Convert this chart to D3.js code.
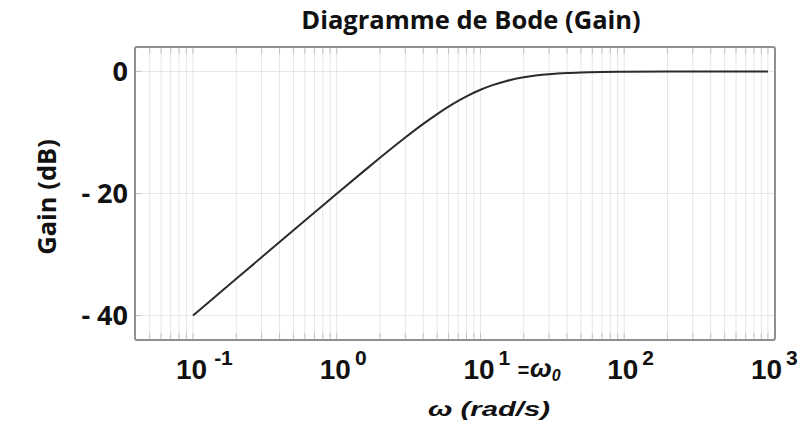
<!DOCTYPE html>
<html>
<head>
<meta charset="utf-8">
<script src="https://cdn.jsdelivr.net/npm/d3@7"></script>
<style>
  html, body { margin: 0; padding: 0; background: #fff; }
  svg { display: block; }
</style>
</head>
<body>
<svg id="chart" width="800" height="428"></svg>
<script>
// ---- data ----
const omega  = [0.1, 0.2, 0.3, 0.5, 0.7, 1, 1.5, 2, 3, 4, 5, 6, 7, 8, 10, 12, 15, 20, 25, 30, 40, 50, 70, 100, 200, 500, 1000];
const gainDb = [-40, -33.98, -30.46, -26.03, -23.12, -20.04, -16.58, -14.15, -10.83, -8.6, -6.99, -5.77, -4.83, -4.09, -3.01, -2.29, -1.6, -0.97, -0.64, -0.46, -0.26, -0.17, -0.09, -0.04, -0.01, 0, 0];
const yTicks = [0, -20, -40];
const yTickLabels = ["0", "- 20", "- 40"];
const xTickValues = [0.1, 1, 10, 100, 1000];
const xTickExponents = ["-1", "0", "1", "2", "3"];
const titleText = "Diagramme de Bode (Gain)";
const xTitle = "ω (rad/s)";
const yTitle = "Gain (dB)";

// ---- layout ----
const svg = d3.select("#chart");
const pLeft = 135, pRight = 775, pTop = 47, pBottom = 340;

const x = d3.scaleLog().domain([0.0395, 1120]).range([pLeft, pRight]);
const y = d3.scaleLinear().domain([-44, 4]).range([pBottom, pTop]);

// minor / major vertical grid positions
const gridVals = [];
for (let e = -2; e <= 3; e++) {
  for (let m = 1; m <= 9; m++) {
    const v = m * Math.pow(10, e);
    if (v <= 1000 && x(v) > pLeft + 4 && x(v) < pRight - 2) gridVals.push(v);
  }
}

const grid = svg.append("g");
grid.selectAll("line.v").data(gridVals).join("line")
  .attr("class", "v")
  .attr("x1", d => x(d)).attr("x2", d => x(d))
  .attr("y1", pTop).attr("y2", pBottom)
  .attr("stroke", "#e6e6e6").attr("stroke-width", 1);
grid.selectAll("line.h").data(yTicks).join("line")
  .attr("class", "h")
  .attr("x1", pLeft).attr("x2", pRight)
  .attr("y1", d => y(d)).attr("y2", d => y(d))
  .attr("stroke", "#e6e6e6").attr("stroke-width", 1);

// small inward ticks top & bottom
const tk = svg.append("g");
tk.selectAll("line.t").data(gridVals).join("line")
  .attr("class", "t")
  .attr("x1", d => x(d)).attr("x2", d => x(d))
  .attr("y1", pTop).attr("y2", pTop + 7)
  .attr("stroke", "#c4c4c4").attr("stroke-width", 1);
tk.selectAll("line.b").data(gridVals).join("line")
  .attr("class", "b")
  .attr("x1", d => x(d)).attr("x2", d => x(d))
  .attr("y1", pBottom - 7).attr("y2", pBottom)
  .attr("stroke", "#c4c4c4").attr("stroke-width", 1);
tk.selectAll("line.l").data(yTicks).join("line")
  .attr("class", "l")
  .attr("x1", pLeft).attr("x2", pLeft + 6)
  .attr("y1", d => y(d)).attr("y2", d => y(d))
  .attr("stroke", "#c4c4c4");

// curve
const pts = omega.map((w, i) => [w, gainDb[i]]);
svg.append("path")
  .datum(pts)
  .attr("fill", "none")
  .attr("stroke", "#2b2b2b")
  .attr("stroke-width", 2)
  .attr("stroke-linejoin", "round")
  .attr("d", d3.line().x(d => x(d[0])).y(d => y(d[1])).curve(d3.curveMonotoneX));

// frame
svg.append("rect")
  .attr("x", pLeft).attr("y", pTop)
  .attr("width", pRight - pLeft).attr("height", pBottom - pTop)
  .attr("rx", 2)
  .attr("fill", "none").attr("stroke", "#8f8f8f").attr("stroke-width", 2);

// title
svg.append("text")
  .attr("x", 471).attr("y", 29)
  .attr("text-anchor", "middle")
  .attr("font-family", "'Open Sans', 'Noto Sans', sans-serif")
  .attr("font-weight", 700).attr("font-size", 25.5)
  .attr("fill", "#111")
  .text(titleText);

// y tick labels
svg.append("g").selectAll("text").data(yTicks).join("text")
  .attr("x", pLeft - 7).attr("y", d => y(d))
  .attr("dy", "0.36em")
  .attr("text-anchor", "end")
  .attr("font-family", "'Open Sans', 'Noto Sans', sans-serif")
  .attr("font-weight", 700).attr("font-size", 27)
  .attr("fill", "#111")
  .text((d, i) => yTickLabels[i]);

// y title
svg.append("text")
  .attr("transform", `translate(56, 197) rotate(-90)`)
  .attr("text-anchor", "middle")
  .attr("font-family", "'Open Sans', 'Noto Sans', sans-serif")
  .attr("font-weight", 700).attr("font-size", 25.5)
  .attr("fill", "#111")
  .text(yTitle);

// x tick labels: 10^k
const xl = svg.append("g")
  .attr("font-family", "'Liberation Sans', Arial, sans-serif")
  .attr("font-weight", 700)
  .attr("fill", "#111");
xTickValues.forEach((v, i) => {
  const t = xl.append("text")
    .attr("x", x(v) - 17).attr("y", 379)
    .attr("font-size", 28);
  t.append("tspan").text("10");
  t.append("tspan").attr("dx", i === 0 ? 7 : 4).attr("dy", -14).attr("font-size", 21).text(xTickExponents[i]);
  if (v === 10) {
    t.append("tspan").attr("dx", 7).attr("dy", 12).attr("font-size", 20)
      .attr("font-style", "italic").text("=");
    t.append("tspan").attr("dx", 1).attr("font-size", 26)
      .attr("font-style", "italic").text("ω");
    t.append("tspan").attr("dy", 4).attr("font-size", 16)
      .attr("font-style", "italic").text("0");
  }
});

// x title
svg.append("text")
  .attr("x", 428).attr("y", 416)
  .attr("font-family", "'Liberation Sans', Arial, sans-serif")
  .attr("font-weight", 700).attr("font-style", "italic")
  .attr("font-size", 20)
  .attr("textLength", 122).attr("lengthAdjust", "spacingAndGlyphs")
  .attr("fill", "#111")
  .text(xTitle);
</script>
</body>
</html>
